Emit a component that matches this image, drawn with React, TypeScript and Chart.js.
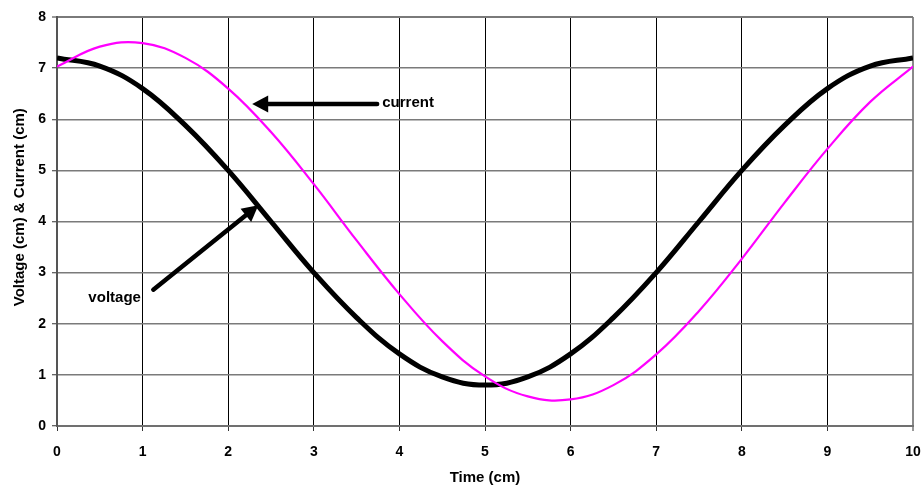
import React, { useEffect, useRef } from "react";
import { Chart, registerables } from "chart.js";

Chart.register(...registerables);

// Time (cm)
const timeValues = [0, 0.5, 1, 1.5, 2, 2.5, 3, 3.5, 4, 4.5, 5, 5.5, 6, 6.5, 7, 7.5, 8, 8.5, 9, 9.5, 10];
// Voltage (cm) - black thick line
const voltageValues = [7.2, 7.04, 6.6, 5.88, 5.0, 4.0, 3.0, 2.12, 1.41, 0.96, 0.8, 0.96, 1.41, 2.12, 3.0, 4.0, 5.0, 5.88, 6.6, 7.04, 7.2];
// Current (cm) - magenta line
const currentValues = [7.03, 7.42, 7.49, 7.2, 6.6, 5.75, 4.73, 3.63, 2.58, 1.66, 0.97, 0.58, 0.52, 0.8, 1.4, 2.25, 3.27, 4.37, 5.42, 6.34, 7.03];

const xTickLabels = ["0", "1", "2", "3", "4", "5", "6", "7", "8", "9", "10"];
const yTickLabels = ["0", "1", "2", "3", "4", "5", "6", "7", "8"];

const xTitle = "Time (cm)";
const yTitle = "Voltage (cm) & Current (cm)";

// Annotation arrows in data coordinates: [tailX, tailY, tipX, tipY]
const currentArrow = [3.74, 6.3, 2.28, 6.3];
const voltageArrow = [1.125, 2.667, 2.352, 4.318];
const currentLabel = { text: "current", x: 3.8, y: 6.33 };
const voltageLabel = { text: "voltage", x: 0.98, y: 2.5 };

const FONT = '"Liberation Sans", Arial, sans-serif';

const annotationPlugin = {
  id: "annotationsCustom",
  afterDatasetsDraw(chart: any) {
    const { ctx, scales } = chart;
    const xs = scales.x;
    const ys = scales.y;
    const drawArrow = (a: number[]) => {
      const x1 = xs.getPixelForValue(a[0]);
      const y1 = ys.getPixelForValue(a[1]);
      const x2 = xs.getPixelForValue(a[2]);
      const y2 = ys.getPixelForValue(a[3]);
      const ang = Math.atan2(y2 - y1, x2 - x1);
      const headLen = 16;
      const headHalf = 8.5;
      const bx = x2 - headLen * Math.cos(ang);
      const by = y2 - headLen * Math.sin(ang);
      ctx.save();
      ctx.strokeStyle = "#000";
      ctx.fillStyle = "#000";
      ctx.lineWidth = 4.5;
      ctx.lineCap = "round";
      ctx.beginPath();
      ctx.moveTo(x1, y1);
      ctx.lineTo(bx + 2 * Math.cos(ang), by + 2 * Math.sin(ang));
      ctx.stroke();
      const px = -Math.sin(ang);
      const py = Math.cos(ang);
      ctx.beginPath();
      ctx.moveTo(x2, y2);
      ctx.lineTo(bx + px * headHalf, by + py * headHalf);
      ctx.lineTo(bx - px * headHalf, by - py * headHalf);
      ctx.closePath();
      ctx.fill();
      ctx.restore();
    };
    drawArrow(currentArrow);
    drawArrow(voltageArrow);

    ctx.save();
    ctx.fillStyle = "#000";
    ctx.font = "bold 15px " + FONT;
    ctx.textBaseline = "middle";
    ctx.textAlign = "left";
    ctx.fillText(currentLabel.text, xs.getPixelForValue(currentLabel.x), ys.getPixelForValue(currentLabel.y));
    ctx.textAlign = "right";
    ctx.fillText(voltageLabel.text, xs.getPixelForValue(voltageLabel.x), ys.getPixelForValue(voltageLabel.y));
    ctx.restore();
  },
  afterDraw(chart: any) {
    const { ctx, scales } = chart;
    const ys = scales.y;
    ctx.save();
    ctx.fillStyle = "#000";
    ctx.font = "bold 15px " + FONT;
    ctx.textAlign = "center";
    ctx.textBaseline = "middle";
    ctx.translate(20, ys.getPixelForValue(4.28));
    ctx.rotate(-Math.PI / 2);
    ctx.fillText(yTitle, 0, 0);
    ctx.restore();
  },
};

export default function App() {
  const canvasRef = useRef<HTMLCanvasElement | null>(null);

  useEffect(() => {
    const canvas = canvasRef.current;
    if (!canvas) return;
    const chart = new Chart(canvas, {
      type: "line",
      data: {
        datasets: [
          {
            label: "current",
            data: timeValues.map((t, i) => ({ x: t, y: currentValues[i] })),
            borderColor: "#ff00ff",
            borderWidth: 2.2,
            pointRadius: 0,
            tension: 0.4,
            fill: false,
          },
          {
            label: "voltage",
            data: timeValues.map((t, i) => ({ x: t, y: voltageValues[i] })),
            borderColor: "#000000",
            borderWidth: 5,
            pointRadius: 0,
            tension: 0.4,
            fill: false,
          },
        ],
      },
      options: {
        animation: false,
        responsive: false,
        maintainAspectRatio: false,
        layout: { padding: { top: 17, right: 8, left: 0, bottom: 0 } },
        plugins: {
          legend: { display: false },
          tooltip: { enabled: false },
          title: { display: false },
        },
        scales: {
          x: {
            type: "linear",
            min: 0,
            max: 10,
            afterFit(scale: any) {
              scale.height = 63;
              scale.paddingRight = 0;
              scale.paddingLeft = 0;
            },
            afterBuildTicks(scale: any) {
              scale.ticks = xTickLabels.map((l) => ({ value: Number(l) }));
            },
            ticks: {
              stepSize: 1,
              color: "#000",
              padding: 13,
              maxRotation: 0,
              font: { family: FONT, size: 14, weight: "bold" },
              callback: (v: any) => xTickLabels[Number(v)] ?? String(v),
            },
            grid: {
              color: (c: any) => (c.tick && c.tick.value === 10 ? "#8a8a8a" : "#000"),
              lineWidth: (c: any) => (c.tick && c.tick.value === 10 ? 2 : 1),
              tickLength: 5,
              tickColor: "#333",
              tickWidth: 1,
            },
            border: { display: true, color: "#707070", width: 2 },
            title: {
              display: true,
              text: xTitle,
              color: "#000",
              font: { family: FONT, size: 15, weight: "bold" },
              padding: { top: 0, bottom: 2 },
            },
          },
          y: {
            type: "linear",
            min: 0,
            max: 8,
            afterFit(scale: any) {
              scale.width = 57;
            },
            afterBuildTicks(scale: any) {
              scale.ticks = yTickLabels.map((l) => ({ value: Number(l) }));
            },
            ticks: {
              stepSize: 1,
              color: "#000",
              padding: 6,
              font: { family: FONT, size: 14, weight: "bold" },
              callback: (v: any) => yTickLabels[Number(v)] ?? String(v),
            },
            grid: {
              color: "#7a7a7a",
              lineWidth: (c: any) => (c.tick && c.tick.value === 8 ? 2 : 1.5),
              tickLength: 5,
              tickColor: "#333",
              tickWidth: 1,
            },
            border: { display: true, color: "#555", width: 2 },
            title: { display: false },
          },
        },
      },
      plugins: [annotationPlugin],
    } as any);
    return () => chart.destroy();
  }, []);

  return (
    <div style={{ position: "fixed", left: 0, top: 0, width: 921, height: 489, background: "#fff" }}>
      <canvas ref={canvasRef} width={921} height={489} style={{ width: 921, height: 489, display: "block" }} />
    </div>
  );
}
